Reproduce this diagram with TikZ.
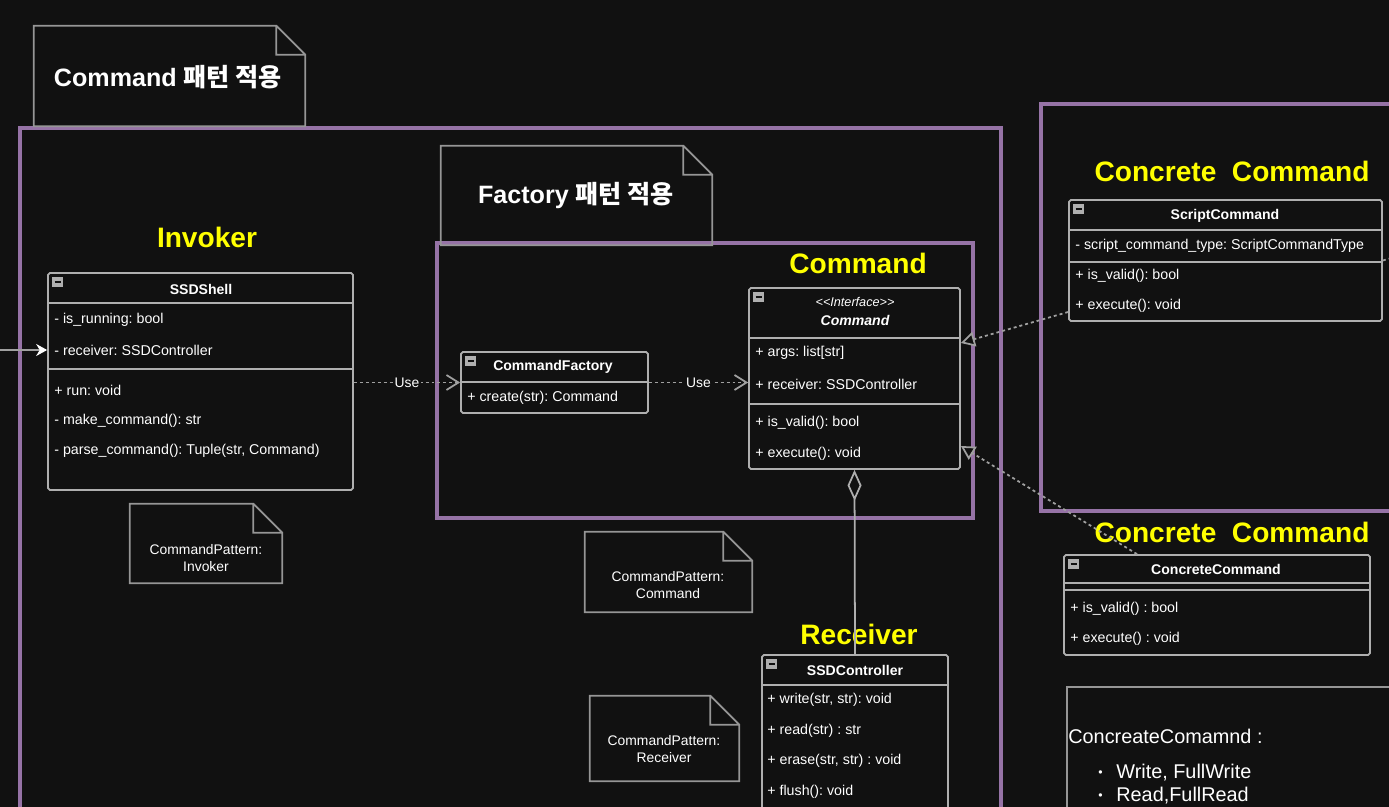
\documentclass[tikz,border=0pt]{standalone}
\usepackage{fontspec}
\setmainfont{Liberation Sans}
\newfontfamily\krfont{Noto Sans CJK KR}
\usetikzlibrary{arrows.meta}

\definecolor{bgdark}{RGB}{17,17,17}
\definecolor{framepurple}{RGB}{150,115,166}
\definecolor{boxgray}{RGB}{175,175,175}
\definecolor{notegray}{RGB}{150,150,150}
\definecolor{linegray}{RGB}{160,160,160}
\definecolor{labelyellow}{RGB}{255,255,0}

\begin{document}
\frenchspacing
\begin{tikzpicture}[x=0.02cm, y=-0.02cm,
    umlclass/.style={draw=boxgray, line width=1pt, rounded corners=1pt, inner sep=0pt},
    classname/.style={text=white, inner sep=0pt, font=\fontsize{8}{9.5}\selectfont\bfseries},
    member/.style={text=white, anchor=west, inner sep=0pt, font=\fontsize{8.1}{9.5}\selectfont},
    sepline/.style={draw=boxgray, line width=1pt},
    frame/.style={draw=framepurple, line width=2.2pt},
    notebox/.style={inner sep=0pt},
    notetext/.style={text=white, align=center, font=\fontsize{7.9}{9.5}\selectfont},
    notetitle/.style={text=white, inner sep=0pt, font=\fontsize{14.3}{16}\selectfont\bfseries},
    rolelabel/.style={text=labelyellow, inner sep=0pt, font=\fontsize{16}{19}\selectfont\bfseries},
    uselabel/.style={text=white, fill=bgdark, inner sep=1pt, font=\fontsize{7.9}{9.5}\selectfont},
    useline/.style={draw=linegray, line width=1pt, dash pattern=on 1.7pt off 1.7pt,
        -{Straight Barb[length=0.24cm, width=0.3cm]}},
    realize/.style={draw=linegray, line width=1pt, dash pattern=on 1.7pt off 1.7pt,
        -{Triangle[fill=bgdark, length=0.28cm, width=0.3cm]}},
    aggr/.style={draw=boxgray, line width=1pt, {Diamond[fill=bgdark, length=0.62cm, width=0.28cm]}-},
    inarrow/.style={draw=linegray, line width=1pt, -{Stealth[length=0.22cm, width=0.24cm, color=white]}},
  ]
    \useasboundingbox (0,0) rectangle (1389,807);
    \fill[bgdark] (0,0) rectangle (1389,807);

    % Pattern frames
    \draw[frame] (20,128) rectangle (1001,830);
    \draw[frame] (437,243) rectangle (973,518);
    \draw[frame] (1041,104) rectangle (1400,511);

    % Notes
    \node[notebox, minimum width=5.42cm, minimum height=2cm] (notecmdpat) at (169.5,76) {};
    \node[notetitle] (notecmdpat-txt) at (168,77) {Command {\krfont 패턴 적용}};
    \node[notebox, minimum width=5.42cm, minimum height=1.98cm] (notefactory) at (576.5,195.5) {};
    \node[notetitle] (notefactory-txt) at (576,196) {Factory {\krfont 패턴 적용}};
    \node[notebox, minimum width=3.04cm, minimum height=1.58cm] (noteinv) at (206,543.5) {};
    \node[notetext] (noteinv-txt) at (206,558) {CommandPattern:\\Invoker};
    \node[notebox, minimum width=3.34cm, minimum height=1.6cm] (notecmd) at (668.5,572) {};
    \node[notetext] (notecmd-txt) at (668,585) {CommandPattern:\\Command};
    \node[notebox, minimum width=2.98cm, minimum height=1.7cm] (notercv) at (664.5,738.5) {};
    \node[notetext] (notercv-txt) at (664,749) {CommandPattern:\\Receiver};
    \foreach \n in {notecmdpat, notefactory, noteinv, notecmd, notercv}
        \draw[notegray, line width=1pt] (\n.south west) -- (\n.north west)
            -- ([xshift=-0.58cm]\n.north east) -- ([yshift=-0.58cm]\n.north east)
            -- (\n.south east) -- cycle
            ([xshift=-0.58cm]\n.north east) |- ([yshift=-0.58cm]\n.north east);

    % Role labels
    \node[rolelabel] (lbl-invoker) at (207,237) {Invoker};
    \node[rolelabel] (lbl-command) at (858,263) {Command};
    \node[rolelabel] (lbl-script) at (1232,171) {Concrete\ \ Command};
    \node[rolelabel] (lbl-concrete) at (1232,532) {Concrete\ \ Command};
    \node[rolelabel] (lbl-receiver) at (859,634) {Receiver};

    % Classes
    \node[umlclass, minimum width=6.1cm, minimum height=4.34cm] (shell) at (200.5,381.5) {};
    \node[classname] (shell-name) at (201,289) {SSDShell};
    \foreach \y/\t [count=\i] in {320/{- is\_running: bool}, 350/{- receiver: SSDController},
        390/{+ run: void}, 421/{- make\_command(): str}, 451/{- parse\_command(): Tuple(str, Command)}}
        \node[member] (shell-\i) at (54,\y) {\t};

    \node[umlclass, minimum width=3.74cm, minimum height=1.22cm] (factory) at (554.5,382.5) {};
    \node[classname] (factory-name) at (553,367) {CommandFactory};
    \node[member] (factory-1) at (467,398) {+ create(str): Command};

    \node[umlclass, minimum width=4.22cm, minimum height=3.62cm] (cmd) at (854.5,378.5) {};
    \node[text=white, inner sep=0pt, font=\fontsize{7.2}{8}\selectfont\itshape] (cmd-stereo) at (855,302) {{<}{<}Interface{>}{>}};
    \node[classname, font=\fontsize{8}{9.5}\selectfont\bfseries\itshape] (cmd-name) at (855,320) {Command};
    \foreach \y/\t [count=\i] in {353/{+ args: list[str]}, 384/{+ receiver: SSDController},
        423/{+ is\_valid(): bool}, 454/{+ execute(): void}}
        \node[member] (cmd-\i) at (755,\y) {\t};

    \node[umlclass, minimum width=3.72cm, minimum height=3.5cm] (ctrl) at (855,742.5) {};
    \node[classname] (ctrl-name) at (855,670) {SSDController};
    \foreach \y/\t [count=\i] in {700/{+ write(str, str): void}, 731/{+ read(str) : str},
        761/{+ erase(str, str) : void}, 792/{+ flush(): void}}
        \node[member] (ctrl-\i) at (767,\y) {\t};

    \node[umlclass, minimum width=6.26cm, minimum height=2.42cm] (script) at (1225.5,260.5) {};
    \node[classname] (script-name) at (1225,216) {ScriptCommand};
    \foreach \y/\t [count=\i] in {246/{- script\_command\_type: ScriptCommandType},
        276/{+ is\_valid(): bool}, 306/{+ execute(): void}}
        \node[member] (script-\i) at (1075,\y) {\t};

    \node[umlclass, minimum width=6.12cm, minimum height=2cm] (concrete) at (1217,605) {};
    \node[classname] (concrete-name) at (1216,569) {ConcreteCommand};
    \foreach \y/\t [count=\i] in {609/{+ is\_valid() : bool}, 639/{+ execute() : void}}
        \node[member] (concrete-\i) at (1070,\y) {\t};

    % compartments and header icons
    \foreach \c/\y in {shell/303, shell/369, factory/382, cmd/338, cmd/404, ctrl/685,
        script/230, script/262, concrete/583, concrete/590}
        \draw[sepline] (\c.west |- 0,\y) -- (\c.east |- 0,\y);
    \foreach \c in {shell, factory, cmd, ctrl, script, concrete} {
        \fill[boxgray] ([xshift=0.1cm, yshift=-0.1cm]\c.north west) rectangle ++(0.22cm,-0.2cm);
        \draw[bgdark, line width=0.8pt] ([xshift=0.15cm, yshift=-0.2cm]\c.north west) -- ++(0.12cm,0);
    }

    % Concrete command list
    \node[draw=notegray, line width=1pt, minimum width=6.66cm, minimum height=2.86cm] (conclist) at (1233.5,758.5) {};
    \node[member, font=\fontsize{11.3}{13}\selectfont] (conclist-title) at (1068,736) {ConcreateComamnd :};
    \foreach \y/\t [count=\i] in {773/{Write, FullWrite}, 796/{Read,FullRead}} {
        \node[member, font=\fontsize{7}{8}\selectfont] (conclist-dot\i) at (1098,\y+1) {•};
        \node[member, font=\fontsize{11.3}{13}\selectfont] (conclist-\i) at (1116,\y) {\t};
    }

    % Connectors
    \coordinate (shellin) at (-5,350);
    \coordinate (scriptout) at (1395,257);
    \draw[inarrow] (shellin) -- (shellin -| shell.west);
    \draw[useline] (shell.east |- factory.west) -- node[uselabel] (use1) {Use} (factory.west);
    \draw[useline] (factory.east) -- node[uselabel] (use2) {Use} (factory.east -| cmd.west);
    \draw[aggr] (cmd.south) -- (ctrl.north);
    \draw[realize] ([yshift=-1.03cm]script.west) -- ([yshift=0.71cm]cmd.east);
    \draw[realize] ([xshift=-1.6cm]concrete.north) -- ([yshift=-1.35cm]cmd.east);
    \draw[linegray, line width=1pt, dash pattern=on 1.7pt off 1.7pt] (script.east) -- (scriptout);
\end{tikzpicture}
\end{document}
